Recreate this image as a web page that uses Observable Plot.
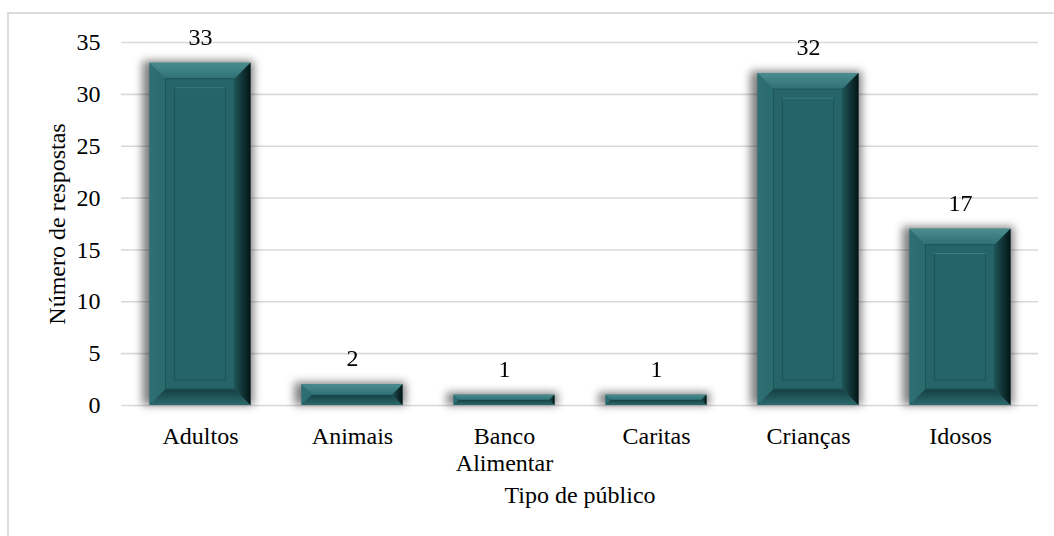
<!DOCTYPE html>
<html>
<head>
<meta charset="utf-8">
<script src="https://cdn.jsdelivr.net/npm/d3@7"></script>
<script src="https://cdn.jsdelivr.net/npm/@observablehq/plot@0.6"></script>
<style>
  html, body { margin: 0; padding: 0; background: #fff; }
  #wrap { position: relative; width: 1054px; height: 536px; overflow: hidden; background: #fff; }
  #wrap svg { position: absolute; left: 0; top: 0; }
  #moldura { position: absolute; left: 7px; top: 12px; width: 1060px; height: 600px; border: 2px solid #dcdcdc; pointer-events: none; }
</style>
</head>
<body>
<div id="wrap"><div id="moldura"></div></div>
<script>
// Respostas por tipo de público
const categorias = ["Adultos", "Animais", "Banco\nAlimentar", "Caritas", "Crianças", "Idosos"];
const respostas = [33, 2, 1, 1, 32, 17];
const ticksY = [0, 5, 10, 15, 20, 25, 30, 35];
const tituloY = "Número de respostas";
const tituloX = "Tipo de público";

const dados = categorias.map((categoria, i) => ({categoria, respostas: respostas[i]}));

const svg = Plot.plot({
  width: 1054,
  height: 536,
  marginLeft: 121,
  marginRight: 16,
  marginTop: 42,
  marginBottom: 131,
  style: {
    fontFamily: "'Liberation Serif', 'Times New Roman', serif",
    fontSize: "24px",
    color: "#000",
    background: "transparent",
    overflow: "visible"
  },
  x: {domain: categorias, padding: 0, label: null},
  y: {domain: [0, 35], label: null},
  marks: [
    Plot.gridY(ticksY, {stroke: "#d9d9d9", strokeOpacity: 1, strokeWidth: 1.6}),
    Plot.axisY(ticksY, {tickSize: 0, tickPadding: 21, label: null}),
    Plot.axisX({tickSize: 0, tickPadding: 19.5, label: null, lineHeight: 1.12}),
    Plot.barY(dados, {
      x: "categoria", y: "respostas", fill: "#256468",
      insetLeft: 25.5, insetRight: 25.5, ariaDescription: "barras"
    }),
    Plot.text(dados, {x: "categoria", y: "respostas", text: d => String(d.respostas), dy: -26}),
    Plot.text([tituloY], {frameAnchor: "left", textAnchor: "middle", lineAnchor: "middle", dx: -64.5, rotate: -90}),
    Plot.text([tituloX], {frameAnchor: "bottom", textAnchor: "middle", lineAnchor: "middle", dy: 90})
  ]
});

// Relevo das barras: sombra desfocada e chanfros desenhados sobre cada retângulo
const NS = "http://www.w3.org/2000/svg";
function el(tag, attrs, parent) {
  const e = document.createElementNS(NS, tag);
  for (const k in attrs) e.setAttribute(k, attrs[k]);
  if (parent) parent.appendChild(e);
  return e;
}
const defs = el("defs", {});
svg.insertBefore(defs, svg.firstChild);
const filtro = el("filter", {id: "sombra", x: "-50%", y: "-50%", width: "200%", height: "200%"}, defs);
el("feGaussianBlur", {stdDeviation: 4.5}, filtro);
function grad(id, vertical, c0, c1) {
  const g = el("linearGradient", {id, x1: 0, y1: 0, x2: vertical ? 0 : 1, y2: vertical ? 1 : 0}, defs);
  el("stop", {offset: "0%", "stop-color": c0}, g);
  el("stop", {offset: "100%", "stop-color": c1}, g);
}
grad("chTopo", true, "#4a8d91", "#2f7074");
grad("chDir", false, "#1f5357", "#041414");
grad("chBase", true, "#173f42", "#2b6a6e");
grad("chEsq", false, "#2e7074", "#286a6d");

const gBarras = svg.querySelector('g[aria-description="barras"]');
const gSombra = el("g", {filter: "url(#sombra)"});
gBarras.parentNode.insertBefore(gSombra, gBarras);
const pts = a => a.map(p => p.join(",")).join(" ");

gBarras.querySelectorAll("rect").forEach(r => {
  const x = +r.getAttribute("x"), y = +r.getAttribute("y");
  const w = +r.getAttribute("width"), h = +r.getAttribute("height");
  el("rect", {x: x - 7, y: y - 2, width: w + 10, height: h + 2, fill: "#000", opacity: 0.5}, gSombra);
  const b = Math.min(16, h / 2, w / 2);
  el("polygon", {points: pts([[x, y], [x + b, y + b], [x + b, y + h - b], [x, y + h]]), fill: "url(#chEsq)"}, gBarras);
  el("polygon", {points: pts([[x, y + h], [x + w, y + h], [x + w - b, y + h - b], [x + b, y + h - b]]), fill: "url(#chBase)"}, gBarras);
  el("polygon", {points: pts([[x, y], [x + w, y], [x + w - b, y + b], [x + b, y + b]]), fill: "url(#chTopo)"}, gBarras);
  el("polygon", {points: pts([[x + w, y], [x + w, y + h], [x + w - b, y + h - b], [x + w - b, y + b]]), fill: "url(#chDir)"}, gBarras);
  if (h > 60) {
    el("rect", {x: x + b, y: y + b, width: w - 2 * b, height: h - 2 * b, fill: "none", stroke: "#1c5356", "stroke-width": 1}, gBarras);
    const p = 25;
    el("rect", {x: x + p, y: y + p, width: w - 2 * p, height: h - 2 * p, fill: "none", stroke: "#1d5558", "stroke-width": 1.2}, gBarras);
    el("line", {x1: x + p, x2: x + w - p, y1: y + p, y2: y + p, stroke: "#3b7f83", "stroke-width": 1.2}, gBarras);
  }
});

document.getElementById("wrap").insertBefore(svg, document.getElementById("moldura"));
</script>
</body>
</html>
